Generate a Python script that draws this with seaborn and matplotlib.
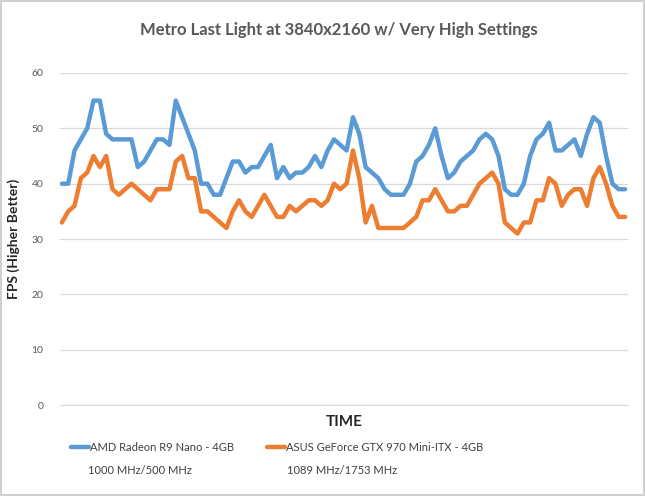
import pandas as pd
import matplotlib.pyplot as plt
import numpy as np
import seaborn as sns
from matplotlib.lines import Line2D

# FPS samples
amd_fps = [40, 40, 46, 48, 50, 55, 55, 49, 48, 48,
           48, 48, 43, 44, 46, 48, 48, 47, 55, 52,
           49, 46, 40, 40, 38, 38, 41, 44, 44, 42,
           43, 43, 45, 47, 41, 43, 41, 42, 42, 43,
           45, 43, 46, 48, 47, 46, 52, 49, 43, 42,
           41, 39, 38, 38, 38, 40, 44, 45, 47, 50,
           45, 41, 42, 44, 45, 46, 48, 49, 48, 45,
           39, 38, 38, 40, 45, 48, 49, 51, 46, 46,
           47, 48, 45, 49, 52, 51, 45, 40, 39, 39]
asus_fps = [33, 35, 36, 41, 42, 45, 43, 45, 39, 38,
            39, 40, 39, 38, 37, 39, 39, 39, 44, 45,
            41, 41, 35, 35, 34, 33, 32, 35, 37, 35,
            34, 36, 38, 36, 34, 34, 36, 35, 36, 37,
            37, 36, 37, 40, 39, 40, 46, 41, 33, 36,
            32, 32, 32, 32, 32, 33, 34, 37, 37, 39,
            37, 35, 35, 36, 36, 38, 40, 41, 42, 40,
            33, 32, 31, 33, 33, 37, 37, 41, 40, 36,
            38, 39, 39, 36, 41, 43, 40, 36, 34, 34]

series_names = ["AMD Radeon R9 Nano - 4GB", "ASUS GeForce GTX 970 Mini-ITX - 4GB"]
series_clocks = ["1000 MHz/500 MHz", "1089 MHz/1753 MHz"]
colors = ["#5B9BD5", "#ED7D31"]
y_ticks = [0, 10, 20, 30, 40, 50, 60]

if __name__ == '__main__':
    sns.set_style("white")
    plt.rcParams["font.family"] = ["Lato", "DejaVu Sans"]

    df = pd.DataFrame({
        "t": list(range(len(amd_fps))) * 2,
        "fps": amd_fps + asus_fps,
        "card": [series_names[0]] * len(amd_fps) + [series_names[1]] * len(asus_fps),
    })

    fig = plt.figure(figsize=(6.45, 4.96), dpi=100)
    fig.patch.set_edgecolor("#d0d0d0")
    fig.patch.set_linewidth(1.5)
    ax = fig.add_axes([0.093, 0.183, 0.881, 0.67])

    sns.lineplot(data=df, x="t", y="fps", hue="card", palette=colors,
                 linewidth=3.2, legend=False, ax=ax)

    ax.set_ylim(0, 60)
    ax.set_xlim(-0.3, len(amd_fps) - 0.5)
    ax.set_yticks(y_ticks)
    ax.set_xticks([])
    ax.yaxis.grid(True, color="#d9d9d9", linewidth=0.9)
    ax.set_axisbelow(True)
    for s in ax.spines.values():
        s.set_visible(False)
    ax.spines["bottom"].set_visible(True)
    ax.spines["bottom"].set_color("#d9d9d9")
    ax.tick_params(axis="y", length=0, labelsize=7.5, labelcolor="#595959", pad=12)

    ax.set_xlabel("TIME", fontsize=11, fontweight="bold", labelpad=7)
    ax.set_ylabel("FPS (Higher Better)", fontsize=10, fontweight="bold", labelpad=8)

    fig.suptitle("Metro Last Light at 3840x2160 w/ Very High Settings",
                 x=0.525, y=0.955, fontsize=12, fontweight="bold", color="#595959")

    handles = [Line2D([], [], color=c, linewidth=3.2) for c in colors]
    fig.legend(handles, series_names, loc="upper left", bbox_to_anchor=(0.095, 0.13),
               ncol=2, frameon=False, fontsize=8, handlelength=1.6, handletextpad=0.1,
               columnspacing=3.0, labelcolor="#404040")
    fig.text(0.137, 0.045, series_clocks[0], fontsize=8, color="#404040")
    fig.text(0.445, 0.045, series_clocks[1], fontsize=8, color="#404040")

    plt.savefig("out.png", dpi=100)
